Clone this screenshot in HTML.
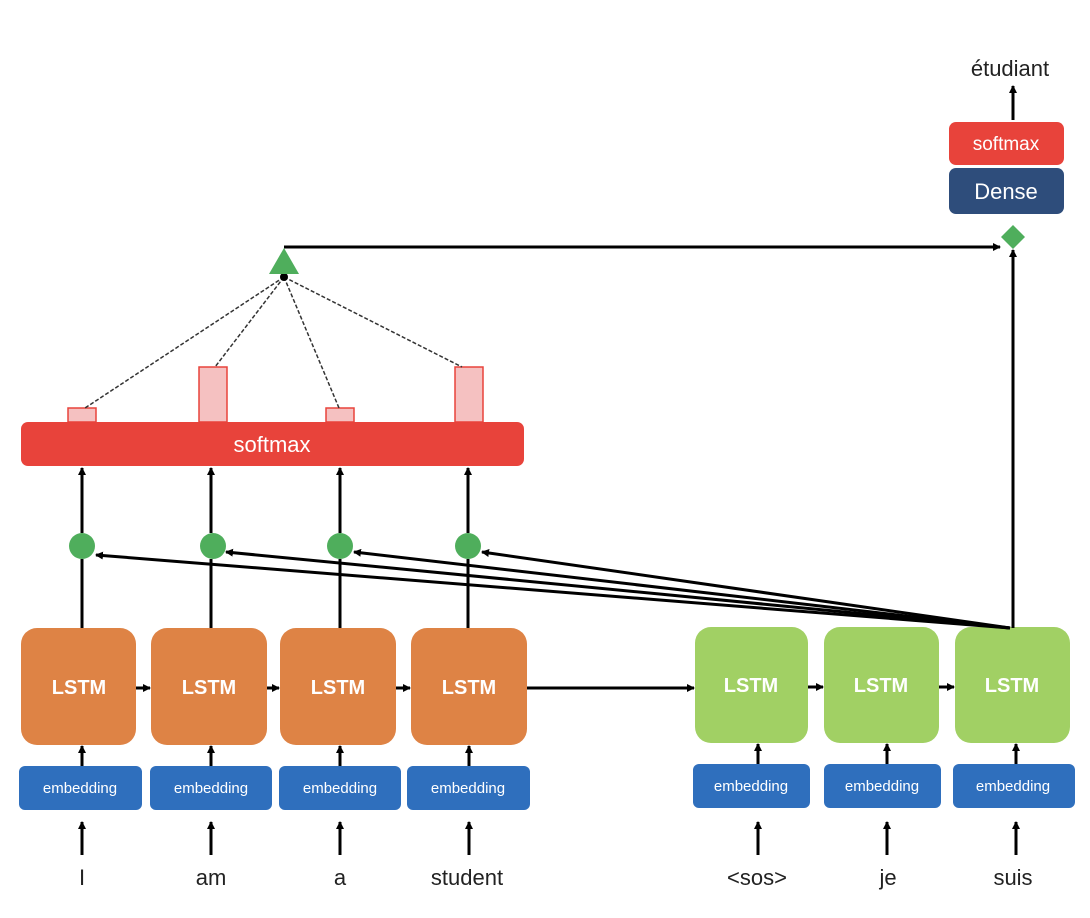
<!DOCTYPE html>
<html><head><meta charset="utf-8"><style>
body{margin:0;background:#fff;}
svg{display:block;font-family:"Liberation Sans",sans-serif;}
</style></head><body>
<svg width="1090" height="918" viewBox="0 0 1090 918" xmlns="http://www.w3.org/2000/svg">
<defs>
<marker id="a" markerWidth="8" markerHeight="8" refX="7" refY="4" orient="auto" markerUnits="userSpaceOnUse"><path d="M0,0 L8,4 L0,8 z" fill="#000"/></marker>
</defs>
<g fill="#de8345">
<rect x="21" y="628" width="115" height="117" rx="16"/>
<rect x="151" y="628" width="116" height="117" rx="16"/>
<rect x="280" y="628" width="116" height="117" rx="16"/>
<rect x="411" y="628" width="116" height="117" rx="16"/>
</g>
<g fill="#a1d064">
<rect x="695" y="627" width="113" height="116" rx="16"/>
<rect x="824" y="627" width="115" height="116" rx="16"/>
<rect x="955" y="627" width="115" height="116" rx="16"/>
</g>
<g fill="#fff" font-weight="bold" font-size="20" text-anchor="middle">
<text x="79" y="694">LSTM</text><text x="209" y="694">LSTM</text><text x="338" y="694">LSTM</text><text x="469" y="694">LSTM</text>
<text x="751" y="692">LSTM</text><text x="881" y="692">LSTM</text><text x="1012" y="692">LSTM</text>
</g>
<g fill="#2f6fbd">
<rect x="19" y="766" width="123" height="44" rx="6"/>
<rect x="150" y="766" width="122" height="44" rx="6"/>
<rect x="279" y="766" width="122" height="44" rx="6"/>
<rect x="407" y="766" width="123" height="44" rx="6"/>
<rect x="693" y="764" width="117" height="44" rx="6"/>
<rect x="824" y="764" width="117" height="44" rx="6"/>
<rect x="953" y="764" width="122" height="44" rx="6"/>
</g>
<g fill="#fff" font-size="15" text-anchor="middle">
<text x="80" y="793">embedding</text><text x="211" y="793">embedding</text><text x="340" y="793">embedding</text><text x="468" y="793">embedding</text>
<text x="751" y="791">embedding</text><text x="882" y="791">embedding</text><text x="1013" y="791">embedding</text>
</g>
<g fill="#222" font-size="22" text-anchor="middle">
<text x="82" y="885">I</text><text x="211" y="885">am</text><text x="340" y="885">a</text><text x="467" y="885">student</text>
<text x="757" y="885">&lt;sos&gt;</text><text x="888" y="885">je</text><text x="1013" y="885">suis</text>
<text x="1010" y="76">étudiant</text>
</g>
<g stroke="#000" stroke-width="3" marker-end="url(#a)">
<line x1="82" y1="855" x2="82" y2="822"/><line x1="211" y1="855" x2="211" y2="822"/><line x1="340" y1="855" x2="340" y2="822"/><line x1="469" y1="855" x2="469" y2="822"/>
<line x1="758" y1="855" x2="758" y2="822"/><line x1="887" y1="855" x2="887" y2="822"/><line x1="1016" y1="855" x2="1016" y2="822"/>
<line x1="82" y1="766" x2="82" y2="746"/><line x1="211" y1="766" x2="211" y2="746"/><line x1="340" y1="766" x2="340" y2="746"/><line x1="469" y1="766" x2="469" y2="746"/>
<line x1="758" y1="764" x2="758" y2="744"/><line x1="887" y1="764" x2="887" y2="744"/><line x1="1016" y1="764" x2="1016" y2="744"/>
<line x1="136" y1="688" x2="150" y2="688"/><line x1="267" y1="688" x2="279" y2="688"/><line x1="396" y1="688" x2="410" y2="688"/>
<line x1="527" y1="688" x2="694" y2="688"/><line x1="808" y1="687" x2="823" y2="687"/><line x1="939" y1="687" x2="954" y2="687"/>
<line x1="82" y1="533" x2="82" y2="468"/><line x1="211" y1="533" x2="211" y2="468"/><line x1="340" y1="533" x2="340" y2="468"/><line x1="468" y1="533" x2="468" y2="468"/>
<line x1="1013" y1="628" x2="1013" y2="250"/>
<line x1="284" y1="247" x2="1000" y2="247"/>
<line x1="1013" y1="120" x2="1013" y2="86"/>
<line x1="1010" y1="628" x2="96" y2="555"/>
<line x1="1010" y1="628" x2="226" y2="552"/>
<line x1="1010" y1="628" x2="354" y2="552"/>
<line x1="1010" y1="628" x2="482" y2="552"/>
</g>
<g stroke="#000" stroke-width="3">
<line x1="82" y1="628" x2="82" y2="559"/><line x1="211" y1="628" x2="211" y2="559"/><line x1="340" y1="628" x2="340" y2="559"/><line x1="468" y1="628" x2="468" y2="559"/>
</g>
<g fill="#4fae5c">
<circle cx="82" cy="546" r="13"/><circle cx="213" cy="546" r="13"/><circle cx="340" cy="546" r="13"/><circle cx="468" cy="546" r="13"/>
</g>
<rect x="21" y="422" width="503" height="44" rx="7" fill="#e8433b"/>
<text x="272" y="452" fill="#fff" font-size="22" text-anchor="middle">softmax</text>
<g fill="#f5c1c1" stroke="#e8433b" stroke-width="1.5">
<rect x="68" y="408" width="28" height="14"/><rect x="199" y="367" width="28" height="55"/><rect x="326" y="408" width="28" height="14"/><rect x="455" y="367" width="28" height="55"/>
</g>
<g stroke="#333" stroke-width="1.5" stroke-dasharray="4,2" fill="none">
<line x1="284" y1="277" x2="85" y2="408"/><line x1="284" y1="277" x2="215" y2="367"/><line x1="284" y1="277" x2="339" y2="408"/><line x1="284" y1="277" x2="462" y2="367"/>
</g>
<circle cx="284" cy="277" r="4" fill="#000"/>
<polygon points="284,248 269,274 299,274" fill="#4fae5c"/>
<polygon points="1013,225 1025,237 1013,249 1001,237" fill="#4fae5c"/>
<rect x="949" y="168" width="115" height="46" rx="7" fill="#2e4d7b"/>
<text x="1006" y="199" fill="#fff" font-size="22" text-anchor="middle">Dense</text>
<rect x="949" y="122" width="115" height="43" rx="7" fill="#e8433b"/>
<text x="1006" y="150" fill="#fff" font-size="19" text-anchor="middle">softmax</text>
</svg>
</body></html>
